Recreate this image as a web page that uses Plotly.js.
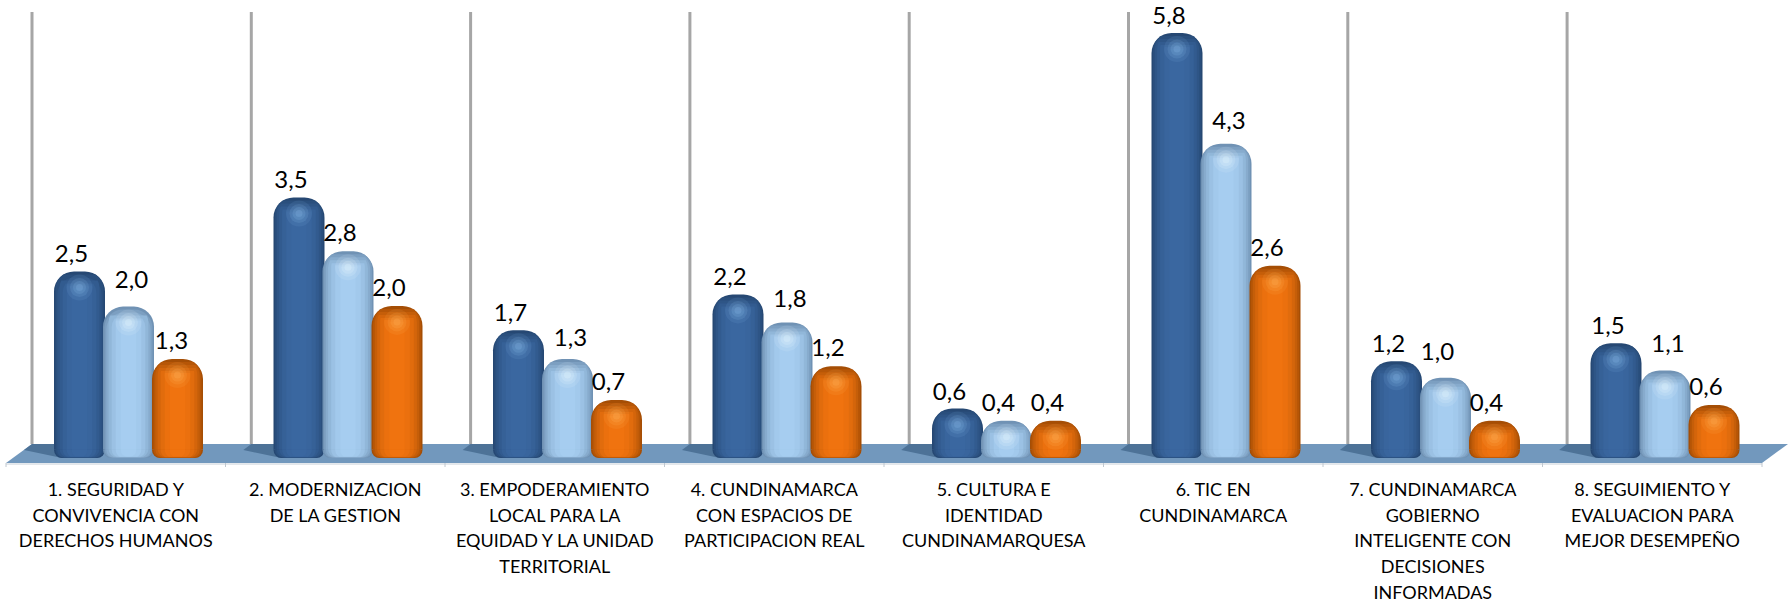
<!DOCTYPE html>
<html><head><meta charset="utf-8">
<script src="https://cdn.plot.ly/plotly-3.0.1.min.js"></script>
<style>html,body{margin:0;padding:0;background:#fff}#c{width:1788px;height:602px}</style>
</head><body><div id="c"></div>
<script>
const categories = [
 ["1. SEGURIDAD Y","CONVIVENCIA CON","DERECHOS HUMANOS"],
 ["2. MODERNIZACION","DE LA GESTION"],
 ["3. EMPODERAMIENTO","LOCAL PARA LA","EQUIDAD Y LA UNIDAD","TERRITORIAL"],
 ["4. CUNDINAMARCA","CON ESPACIOS DE","PARTICIPACION REAL"],
 ["5. CULTURA E","IDENTIDAD","CUNDINAMARQUESA"],
 ["6. TIC EN","CUNDINAMARCA"],
 ["7. CUNDINAMARCA","GOBIERNO","INTELIGENTE CON","DECISIONES","INFORMADAS"],
 ["8. SEGUIMIENTO Y","EVALUACION PARA","MEJOR DESEMPEÑO"]
];
const serieAzul    = [2.48,3.51,1.66,2.16,0.57,5.80,1.23,1.48];
const serieCeleste = [1.99,2.76,1.26,1.77,0.40,4.26,1.00,1.10];
const serieNaranja = [1.26,2.00,0.69,1.16,0.40,2.56,0.40,0.62];

const W=1788, H=602, PX=219.5, X0=6, PU=71.8, Y0=449.5, BOTTOM=470;
const xp = p => (p-X0)/PX-0.5;
const yp = p => (Y0-p)/PU;
const idx = categories.map((_,i)=>i);
const series = [
 {name:'A', vals:serieAzul, off:-49, labDx:[-8,-8,-8,-8,-8,-8,-8,-8], lift:[3,3,3,3,3,3,3,3], edge:[38,72,115], mid:[58,103,160], hi:'rgba(135,185,230,A)'},
 {name:'B', vals:serieCeleste, off:0, labDx:[3,-8,3,3,-8,3,-8,3], lift:[13,4,7,9,4,9,12,13], edge:[112,146,180], mid:[166,205,240], hi:'rgba(235,250,255,A)'},
 {name:'C', vals:serieNaranja, off:49, labDx:[-6,-8,-8,-8,-8,-8,-8,-8], lift:[4,4,4,4,4,4,4,4], edge:[165,78,5], mid:[240,115,15], hi:'rgba(255,180,90,A)'}
];
const GROUP = 12.75, BW = 51;
const mix=(a,b,t)=>`rgb(${a.map((v,i)=>Math.round(v+(b[i]-v)*t)).join(',')})`;
const LAYERS=[[1,0,0],[0.94,3,0.22],[0.87,6,0.42],[0.78,9,0.62],[0.66,12,0.8],[0.5,14,0.93],[0.3,16,1]];
const GLOW=[[26,0.12],[19,0.16],[13,0.2],[7,0.25]];
const traces=[];
series.forEach(s=>{
  const x=idx.map(i=>i+(GROUP+s.off)/PX);
  LAYERS.forEach(([wf,drop,t],k)=>{
    const col=mix(s.edge,s.mid,t), w=BW*wf;
    traces.push({type:'bar',x,y:s.vals.map(v=>v-drop/PU),width:w/PX,
      marker:{color:col,line:{width:0},cornerradius:Math.min(w/2,20-k*1.2)},hoverinfo:'skip',showlegend:false});
    traces.push({type:'bar',x,y:idx.map(()=>-8.5/PU*(1-k*0.03)),width:w/PX,
      marker:{color:col,line:{width:0},cornerradius:w/2},hoverinfo:'skip',showlegend:false});
  });
  GLOW.forEach(([sz,a])=>{
    traces.push({type:'scatter',mode:'markers',x,y:s.vals.map(v=>v-16/PU),
      marker:{size:sz,color:s.hi.replace('A',a),line:{width:0}},hoverinfo:'skip',showlegend:false});
  });
});
series.forEach(s=>{
  traces.push({type:'scatter',mode:'text',name:s.name,
    x:idx.map(i=>i+(GROUP+s.off+s.labDx[i])/PX),
    y:s.vals.map((v,i)=>v+s.lift[i]/PU),
    text:s.vals.map(v=>v.toFixed(1).replace('.',',')),
    textposition:'top center',cliponaxis:false,
    textfont:{family:'Lato, Carlito, sans-serif',size:24,color:'#000'},
    hoverinfo:'skip',showlegend:false});
});
const shapes=[];
const poly=(pts,fill)=>({type:'path',xref:'x',yref:'y',layer:'below',line:{width:0},fillcolor:fill,
  path:'M'+pts.map(p=>xp(p[0])+','+yp(p[1])).join(' L')+' Z'});
shapes.push(poly([[6,463],[1762,463],[1788,444],[32,444]],'#7298bd'));
for(let i=0;i<8;i++){
  const b=32+219.3*i;
  shapes.push(poly([[b-8,450],[b+30,458],[b+35,444],[b,444]],'#4d7297'));
  shapes.push({type:'line',xref:'x',yref:'y',layer:'below',x0:xp(b),x1:xp(b),y0:yp(12),y1:yp(444),line:{color:'#a6a6a6',width:3}});
}
shapes.push({type:'line',xref:'x',yref:'y',layer:'below',x0:xp(6),x1:xp(1762),y0:yp(464),y1:yp(464),line:{color:'#c8d0d8',width:1}});
for(let i=0;i<=8;i++){const t=6+PX*i;
  shapes.push({type:'line',xref:'x',yref:'y',layer:'below',x0:xp(t),x1:xp(t),y0:yp(463),y1:yp(467),line:{color:'#c0c8d0',width:1}});
}
const ticktext=categories.map(c=>c.map(l=>`<span style="font-size:18px">${l}</span>`).join('<br>'));
const layout={
  width:W,height:H,margin:{l:0,r:0,t:0,b:H-BOTTOM,pad:0},
  paper_bgcolor:'#fff',plot_bgcolor:'#fff',barmode:'overlay',showlegend:false,
  xaxis:{range:[xp(0),xp(W)],tickmode:'array',tickvals:idx,ticktext,showgrid:false,zeroline:false,showline:false,ticks:'',
    tickangle:0,tickfont:{family:'Lato, Carlito, sans-serif',size:19.8,color:'#000'},automargin:false,ticklabelstandoff:5},
  yaxis:{range:[yp(BOTTOM),yp(0)],visible:false,showgrid:false,zeroline:false},
  shapes
};
Plotly.newPlot('c',traces,layout,{displayModeBar:false,staticPlot:true});
</script></body></html>
